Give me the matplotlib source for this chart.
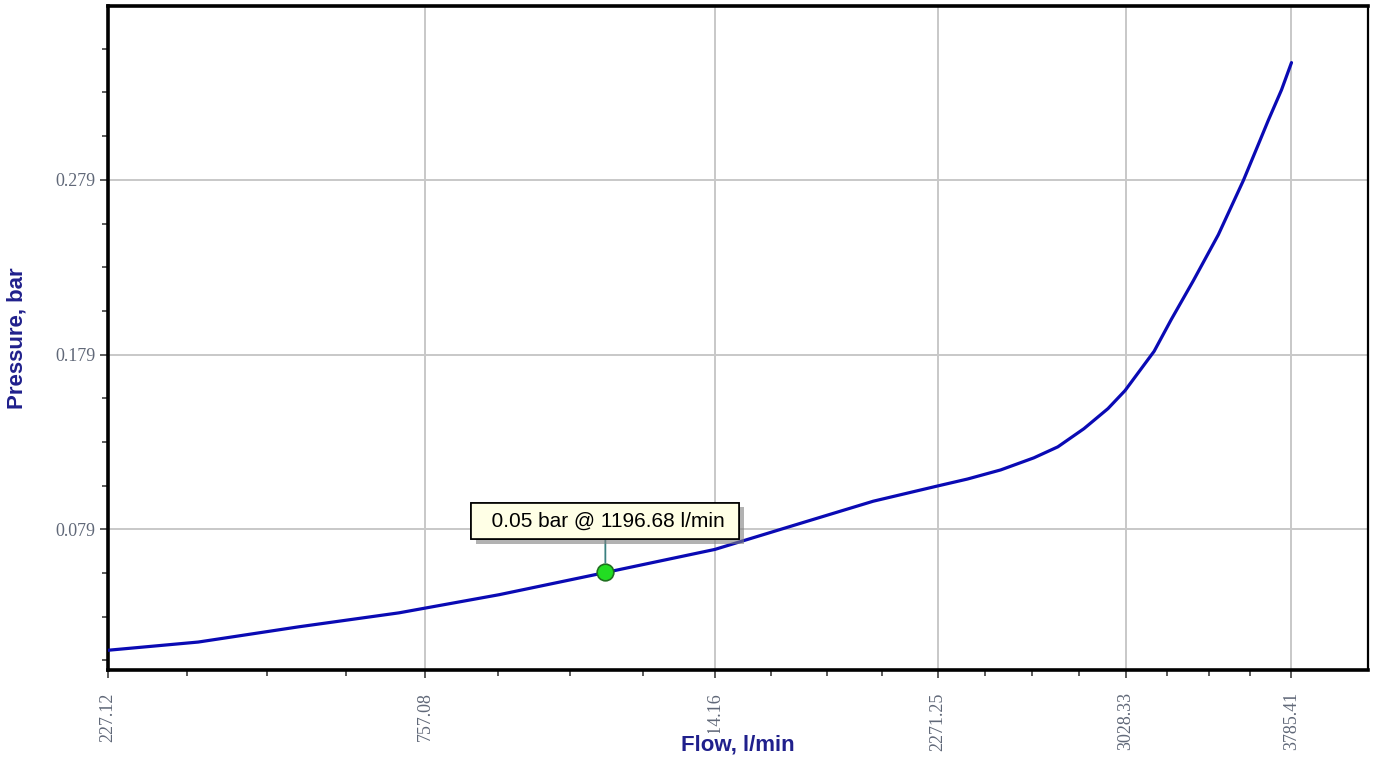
import numpy as np
import matplotlib
matplotlib.use("Agg")
import matplotlib.pyplot as plt
from matplotlib.ticker import FixedLocator, FixedFormatter
import matplotlib.patheffects as pe

# pump curve (flow in l/min, pressure in bar)
flow = [227.12, 346.5, 508.5, 701.6, 925.7, 1197.1, 1512.4, 1807.3, 2034.9,
        2268.6, 2382.5, 2511.0, 2643.0, 2740.9, 2849.2, 2951.0, 3024.1,
        3151.0, 3226.6, 3325.7, 3440.3, 3556.7, 3627.4, 3675.0, 3737.4,
        3785.41]
pressure = [0.0098, 0.0145, 0.0232, 0.0312, 0.0416, 0.0543, 0.0675, 0.0836,
            0.0951, 0.1038, 0.1078, 0.1130, 0.1199, 0.1262, 0.1366, 0.1481,
            0.1584, 0.1809, 0.1990, 0.2212, 0.2476, 0.2787, 0.2994, 0.3133,
            0.3305, 0.3461]

x_ticks = [227.12, 757.08, 1514.16, 2271.25, 3028.33, 3785.41]
x_labels = ["227.12", "757.08", "1514.16", "2271.25", "3028.33", "3785.41"]
y_ticks = [0.079, 0.179, 0.279]
y_labels = ["0.079", "0.179", "0.279"]

marker_flow = 1196.68
marker_pressure = 0.0543
marker_text = "  0.05 bar @ 1196.68 l/min "

fig = plt.figure(figsize=(13.79, 7.62), dpi=100)
ax = fig.add_axes([108 / 1379, 1 - 670 / 762, 1260 / 1379, 664 / 762])

# the x axis is spaced on a square-root scale
ax.set_xscale("function", functions=(np.sqrt, np.square))
ax.set_xlim(227.12, 4164.0)
ax.set_ylim(-0.0015, 0.3785)

ax.grid(True, which="major", color="#c8c8c8", lw=1.4, zorder=0)
ax.plot(flow, pressure, color="#0a0ab4", lw=2.3, zorder=3,
        solid_capstyle="round", solid_joinstyle="round")

# major / minor ticks
ax.xaxis.set_major_locator(FixedLocator(x_ticks))
ax.xaxis.set_major_formatter(FixedFormatter(x_labels))
minors = []
for a, b in zip(x_ticks[:-1], x_ticks[1:]):
    sa, sb = np.sqrt(a), np.sqrt(b)
    for k in range(1, 4):
        minors.append((sa + k * (sb - sa) / 4) ** 2)
ax.xaxis.set_minor_locator(FixedLocator(minors))

ax.yaxis.set_major_locator(FixedLocator(y_ticks))
ax.yaxis.set_major_formatter(FixedFormatter(y_labels))
ax.yaxis.set_minor_locator(FixedLocator(np.arange(0.004, 0.37, 0.025)))

ax.tick_params(axis="both", which="major", length=6, width=1.2, color="#404040",
               labelcolor="#606878")
ax.tick_params(axis="both", which="minor", length=4, width=1.2, color="#404040")
ax.tick_params(axis="x", which="major", pad=10, labelrotation=90)
ax.tick_params(axis="y", which="major", pad=3)
for lab in ax.get_xticklabels() + ax.get_yticklabels():
    lab.set_fontfamily("Liberation Serif")
    lab.set_fontsize(13)

for side in ["left", "bottom", "top"]:
    ax.spines[side].set_linewidth(2.6)
ax.spines["right"].set_linewidth(1.6)
for sp in ax.spines.values():
    sp.set_color("black")

label_font = dict(family="Liberation Sans", size=16, weight="bold", color="#20208c")
ax.set_xlabel("Flow, l/min", **label_font,
              bbox=dict(facecolor="white", edgecolor="none", pad=1))
ax.xaxis.set_label_coords(0.5, -0.113)
ax.xaxis.label.set_va("center")
ax.set_ylabel("Pressure, bar", **label_font)
ax.yaxis.set_label_coords(-0.072, 0.5)
ax.yaxis.label.set_va("center")

# hover marker with its tooltip
ax.plot([marker_flow], [marker_pressure], "o", ms=12, mfc="#22dd22",
        mec="#207020", mew=1.2, zorder=5)
ann = ax.annotate(marker_text, xy=(marker_flow, marker_pressure),
                  xytext=(0, 37), textcoords="offset points",
                  ha="center", va="center", fontsize=15,
                  family="Liberation Sans", color="black", zorder=6,
                  bbox=dict(boxstyle="square,pad=0.42", facecolor="#ffffe6",
                            edgecolor="black", lw=1.2),
                  arrowprops=dict(arrowstyle="-", color="#3a8080", lw=1.3,
                                  shrinkA=0, shrinkB=7))
ann.get_bbox_patch().set_path_effects(
    [pe.withSimplePatchShadow(offset=(3, -3), shadow_rgbFace="#808080", alpha=0.6),
     pe.Normal()])

fig.savefig("out.png", dpi=100)
